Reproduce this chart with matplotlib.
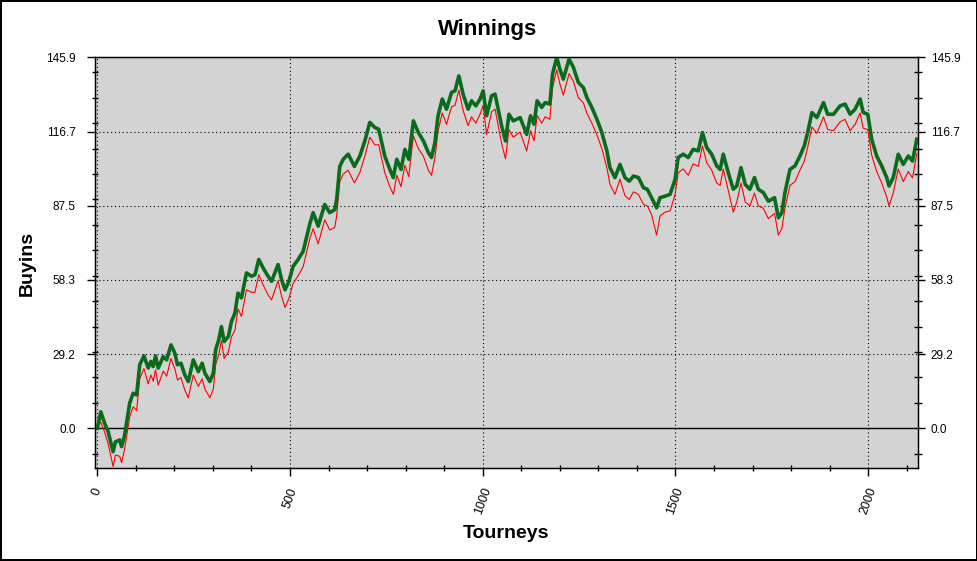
import matplotlib
matplotlib.use("Agg")
import matplotlib.pyplot as plt
from matplotlib.ticker import MultipleLocator, FixedLocator

plt.rcParams['font.family'] = ['Liberation Sans', 'DejaVu Sans']

# values (tourney number, buyins)
tourneys = [0, 9, 19, 28, 41, 47, 58, 63, 71, 84, 93, 102, 110, 121, 132, 139, 145, 151, 158, 171,
            180, 191, 201, 208, 217, 227, 236, 249, 262, 272, 279, 292, 301, 307, 315, 322, 329, 340,
            348, 357, 365, 374, 387, 400, 409, 419, 430, 443, 452, 469, 478, 487, 497, 508, 521, 534,
            552, 560, 573, 590, 603, 616, 621, 629, 638, 651, 667, 681, 694, 707, 720, 730, 746, 759,
            768, 777, 788, 798, 808, 820, 833, 846, 859, 867, 876, 884, 895, 906, 919, 928, 938, 949,
            962, 971, 982, 993, 1001, 1010, 1023, 1032, 1040, 1049, 1059, 1068, 1079, 1097, 1114,
            1124, 1133, 1141, 1153, 1162, 1174, 1181, 1192, 1200, 1209, 1224, 1235, 1248, 1261, 1270,
            1283, 1296, 1309, 1322, 1330, 1343, 1356, 1369, 1380, 1391, 1404, 1417, 1427, 1438, 1451,
            1460, 1473, 1486, 1499, 1507, 1520, 1533, 1546, 1559, 1570, 1581, 1594, 1607, 1616, 1624,
            1637, 1650, 1659, 1670, 1681, 1693, 1705, 1715, 1728, 1741, 1757, 1767, 1776, 1784, 1797,
            1810, 1823, 1834, 1843, 1854, 1867, 1884, 1895, 1910, 1927, 1940, 1953, 1966, 1979, 1987,
            1999, 2009, 2022, 2035, 2048, 2054, 2065, 2078, 2091, 2104, 2115, 2126]

green_buyins = [0.0, 6.5, 2.0, -1.3, -9.2, -5.3, -4.6, -7.2, -2.6, 9.9, 13.8, 13.1, 25.0, 28.5, 23.7,
                26.3, 24.3, 28.5, 23.7, 28.2, 26.9, 32.8, 29.6, 25.0, 25.6, 21.0, 18.4, 26.9, 22.3,
                25.6, 21.7, 18.4, 21.7, 30.9, 34.8, 40.0, 34.1, 36.1, 42.0, 45.3, 53.2, 51.3, 61.1,
                59.8, 60.4, 66.4, 63.1, 59.8, 57.8, 64.4, 58.5, 54.5, 57.8, 63.7, 66.4, 69.6, 80.8,
                84.8, 79.5, 88.0, 84.8, 86.0, 90.0, 103.0, 105.8, 107.8, 103.0, 107.0, 113.0, 120.3,
                118.3, 117.6, 107.0, 101.8, 98.6, 105.8, 101.8, 109.7, 105.8, 120.9, 116.3, 113.0,
                108.4, 106.5, 112.4, 122.9, 129.5, 125.5, 132.1, 132.7, 138.6, 131.4, 125.5, 128.8,
                126.8, 129.5, 132.7, 122.9, 130.8, 131.4, 125.5, 118.9, 113.0, 123.5, 120.9, 122.2,
                115.6, 122.9, 119.6, 128.8, 126.2, 128.1, 127.5, 139.3, 145.9, 141.3, 137.3, 145.2,
                142.0, 136.0, 134.0, 130.1, 126.2, 121.6, 116.3, 109.1, 102.5, 98.6, 103.8, 98.6,
                97.2, 99.2, 98.6, 94.6, 94.0, 90.7, 86.7, 90.7, 91.3, 92.0, 97.9, 106.5, 107.8, 106.5,
                109.7, 109.1, 116.3, 110.4, 107.8, 103.2, 101.8, 107.8, 100.5, 94.0, 95.3, 102.5,
                95.9, 94.0, 98.6, 94.0, 92.7, 89.3, 90.7, 82.8, 84.8, 92.7, 101.8, 103.2, 107.1,
                111.0, 116.3, 124.2, 122.2, 128.1, 123.5, 123.5, 126.8, 127.5, 123.5, 125.5, 129.5,
                124.2, 123.5, 113.7, 107.1, 103.2, 98.6, 95.3, 98.6, 107.8, 103.8, 107.1, 105.1, 113.7]

red_buyins = [0.0, 2.5, -1.5, -6.0, -15.0, -10.5, -11.0, -13.5, -8.0, 4.5, 8.5, 7.0, 19.5, 23.5, 17.5,
              21.0, 18.5, 23.0, 17.0, 22.5, 20.5, 27.5, 23.5, 19.0, 20.0, 15.0, 12.0, 21.0, 16.5,
              19.5, 15.5, 12.0, 15.5, 25.0, 29.0, 34.5, 27.5, 30.0, 36.0, 38.5, 47.0, 44.0, 54.5,
              53.5, 53.5, 60.5, 56.5, 52.5, 50.5, 58.0, 52.0, 47.5, 51.0, 57.0, 60.0, 63.5, 75.0,
              78.5, 72.5, 82.0, 78.0, 79.0, 83.5, 97.0, 100.0, 101.5, 96.5, 100.5, 107.0, 114.5,
              111.5, 111.5, 100.5, 95.0, 92.0, 99.5, 95.0, 103.5, 99.0, 115.0, 110.0, 107.0,
              101.5, 99.5, 106.5, 117.0, 124.0, 119.5, 126.5, 127.0, 133.0, 125.0, 119.0, 122.5,
              120.0, 123.5, 127.0, 115.5, 124.5, 125.5, 119.0, 112.0, 106.0, 117.5, 114.5, 116.5,
              109.0, 117.0, 113.0, 123.0, 120.0, 122.5, 121.5, 134.0, 141.0, 135.5, 131.0, 139.5,
              136.5, 130.0, 128.0, 124.0, 120.0, 115.5, 110.0, 102.5, 96.0, 92.0, 98.0, 91.5,
              90.0, 93.0, 92.0, 88.0, 87.5, 84.0, 76.0, 83.5, 85.0, 85.5, 92.0, 100.5, 102.0, 99.5,
              104.0, 103.0, 111.0, 104.5, 101.5, 96.5, 95.5, 102.0, 93.5, 85.0, 89.0, 96.5,
              89.0, 87.5, 92.5, 87.5, 86.5, 82.5, 84.5, 76.0, 78.5, 86.5, 95.5, 97.0, 101.5,
              105.0, 110.5, 118.5, 116.0, 122.5, 117.5, 117.0, 120.5, 121.5, 117.0, 119.5, 124.0,
              118.0, 117.5, 107.5, 101.0, 96.5, 91.0, 87.5, 92.5, 102.0, 97.0, 101.0, 98.5, 108.0]

y_ticks = [0.0, 29.18, 58.36, 87.54, 116.72, 145.9]
y_tick_labels = ["0.0", "29.2", "58.3", "87.5", "116.7", "145.9"]
x_ticks = [0, 500, 1000, 1500, 2000]

fig = plt.figure(figsize=(9.78, 5.61), dpi=100)
fig.patch.set_facecolor("white")
fig.patch.set_edgecolor("black")
fig.patch.set_linewidth(1.5)

ax = fig.add_axes([95 / 978, 93 / 561, 823.3 / 978, 410.7 / 561])
ax.set_facecolor("#d3d3d3")

ax.plot(tourneys, red_buyins, color="#ff0000", linewidth=0.8, zorder=3)
ax.plot(tourneys, green_buyins, color="#0b6b1c", linewidth=2.6, zorder=4)
ax.axhline(0, color="black", linewidth=1, zorder=2)

ax.set_xlim(-6, 2130)
ax.set_ylim(-15.6, 145.9)

# ticks and grid
ax.set_xticks(x_ticks)
ax.set_xticklabels([str(t) for t in x_ticks], rotation=70, ha="center", va="top", fontsize=9)
ax.xaxis.set_minor_locator(MultipleLocator(100))
ax.set_yticks(y_ticks)
ax.set_yticklabels(y_tick_labels, fontsize=8.5)
ax.yaxis.set_minor_locator(FixedLocator(list(range(-10, 150, 10))))

ax.tick_params(which="major", direction="out", length=6, width=1, pad=7)
ax.tick_params(which="minor", direction="inout", length=5, width=1)
ax.tick_params(axis="y", which="major", pad=8)
ax.grid(True, which="major", color="black", linestyle=(0, (1, 2.5)), linewidth=0.8)
ax.set_axisbelow(False)
for s in ax.spines.values():
    s.set_linewidth(1)

# right side copy of the y axis
ax2 = ax.twinx()
ax2.set_ylim(ax.get_ylim())
ax2.set_yticks(y_ticks)
ax2.set_yticklabels(y_tick_labels, fontsize=8.5)
ax2.yaxis.set_minor_locator(FixedLocator(list(range(-10, 150, 10))))
ax2.tick_params(which="major", direction="out", length=5, width=1, pad=4)
ax2.tick_params(which="minor", direction="inout", length=6, width=1)

fig.text(0.499, 1 - 29 / 561, "Winnings", ha="center", va="center", fontsize=16, fontweight="bold")
fig.text(506 / 978, 1 - 533 / 561, "Tourneys", ha="center", va="center", fontsize=14, fontweight="bold")
fig.text(27 / 978, 1 - 263 / 561, "Buyins", ha="center", va="center", rotation=90,
         fontsize=14, fontweight="bold")

fig.savefig("out.png", dpi=100, facecolor=fig.get_facecolor(), edgecolor=fig.get_edgecolor())
